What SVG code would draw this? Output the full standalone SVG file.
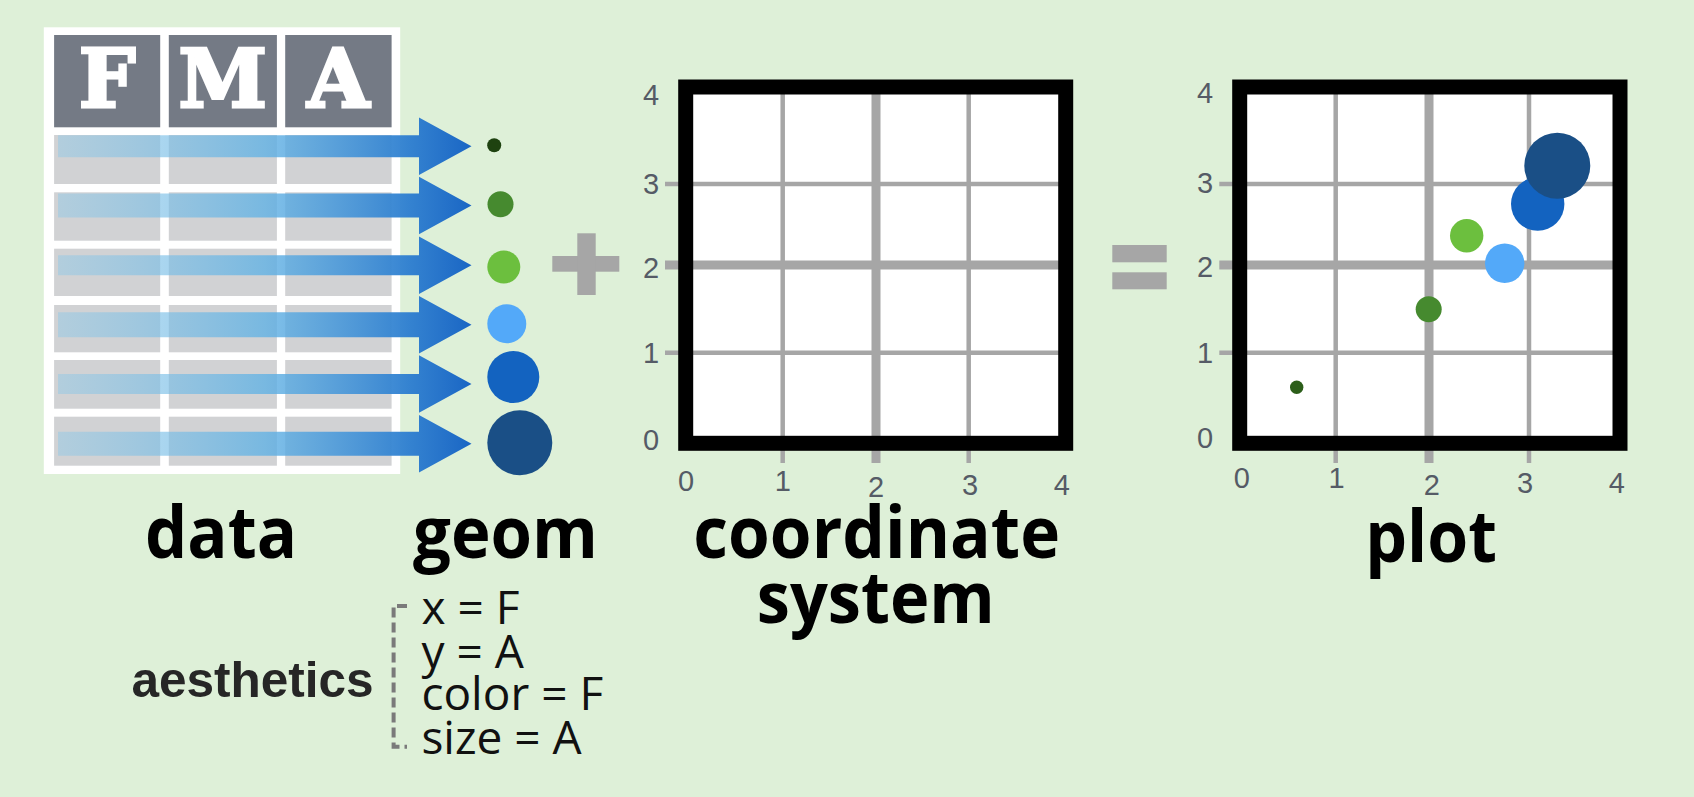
<svg xmlns="http://www.w3.org/2000/svg" width="1694" height="797" viewBox="0 0 1694 797">
<defs>
<linearGradient id="arrowGrad" gradientUnits="userSpaceOnUse" x1="58" y1="0" x2="471.5" y2="0">
<stop offset="0" stop-color="#8cc8e8" stop-opacity="0.45"/>
<stop offset="0.5" stop-color="#62b2e4" stop-opacity="0.8"/>
<stop offset="0.85" stop-color="#2f7fd0" stop-opacity="0.97"/>
<stop offset="1" stop-color="#1a66c4" stop-opacity="1"/>
</linearGradient>
<style>
.hdr{fill:#747a85}
.cell{fill:#d1d2d4}
.hl{font-family:"DejaVu Serif",serif;font-weight:bold;font-size:80px;fill:#ffffff;stroke:#ffffff;stroke-width:3;text-anchor:middle}
.arrow{fill:url(#arrowGrad)}
.grid{stroke:#a6a6a6;stroke-width:4.5;fill:none}
.gridT{stroke:#a6a6a6;stroke-width:9;fill:none}
.frame{fill:none;stroke:#000000;stroke-width:15}
.ax{font-family:"Liberation Sans",Arial,sans-serif;font-size:29px;fill:#555b66;text-anchor:middle}
.lbl{font-family:"Open Sans","Noto Sans",sans-serif;font-weight:bold;font-size:72px;fill:#000000;text-anchor:middle}
.aes{font-family:"Open Sans","Noto Sans",sans-serif;font-size:46px;fill:#111111}
.op{fill:#a6a6a6}
</style>
</defs>
<rect x="0" y="0" width="1694" height="797" fill="#def0d8"/>

<g id="data">
<rect x="43.8" y="27.3" width="356.4" height="446.7" fill="#ffffff"/>
<rect class="hdr" x="54.1" y="35" width="106.1" height="92.3"/>
<rect class="hdr" x="168.8" y="35" width="108.1" height="92.3"/>
<rect class="hdr" x="285.2" y="35" width="106.4" height="92.3"/>
<text class="hl" x="107.2" y="107">F</text>
<text class="hl" x="222.9" y="107">M</text>
<text class="hl" x="338.4" y="107">A</text>
<g>
<rect class="cell" x="54.1" y="135" width="106.1" height="49"/>
<rect class="cell" x="168.8" y="135" width="108.1" height="49"/>
<rect class="cell" x="285.2" y="135" width="106.4" height="49"/>
<rect class="cell" x="54.1" y="192.3" width="106.1" height="48.4"/>
<rect class="cell" x="168.8" y="192.3" width="108.1" height="48.4"/>
<rect class="cell" x="285.2" y="192.3" width="106.4" height="48.4"/>
<rect class="cell" x="54.1" y="248.7" width="106.1" height="47.3"/>
<rect class="cell" x="168.8" y="248.7" width="108.1" height="47.3"/>
<rect class="cell" x="285.2" y="248.7" width="106.4" height="47.3"/>
<rect class="cell" x="54.1" y="305" width="106.1" height="47.3"/>
<rect class="cell" x="168.8" y="305" width="108.1" height="47.3"/>
<rect class="cell" x="285.2" y="305" width="106.4" height="47.3"/>
<rect class="cell" x="54.1" y="360" width="106.1" height="48.7"/>
<rect class="cell" x="168.8" y="360" width="108.1" height="48.7"/>
<rect class="cell" x="285.2" y="360" width="106.4" height="48.7"/>
<rect class="cell" x="54.1" y="416.7" width="106.1" height="49"/>
<rect class="cell" x="168.8" y="416.7" width="108.1" height="49"/>
<rect class="cell" x="285.2" y="416.7" width="106.4" height="49"/>
</g>
<text class="lbl" x="221" y="558" textLength="152" lengthAdjust="spacingAndGlyphs">data</text>
</g>

<g id="connectors">
<path class="arrow" d="M58,135.3 H419 V117.6 L471.5,146.3 L419,175 V157.3 H58 Z"/>
<path class="arrow" d="M58,193.5 H419 V176.8 L471.5,205.5 L419,234.2 V217.5 H58 Z"/>
<path class="arrow" d="M58,255.2 H419 V236.5 L471.5,265.2 L419,293.9 V275.2 H58 Z"/>
<path class="arrow" d="M58,312.2 H419 V296 L471.5,324.7 L419,353.4 V337.2 H58 Z"/>
<path class="arrow" d="M58,374 H419 V355.3 L471.5,384 L419,412.7 V394 H58 Z"/>
<path class="arrow" d="M58,431.7 H419 V415 L471.5,443.7 L419,472.4 V455.7 H58 Z"/>
</g>

<g id="geom">
<circle cx="494.2" cy="145.3" r="7" fill="#1e4210"/>
<circle cx="500.5" cy="204.3" r="13" fill="#468a2f"/>
<circle cx="503.8" cy="267" r="16.5" fill="#6cbf3e"/>
<circle cx="506.8" cy="323.7" r="19.5" fill="#53a9f9"/>
<circle cx="513.3" cy="377" r="26" fill="#1363c0"/>
<circle cx="519.8" cy="442.7" r="32.5" fill="#1a4f86"/>
<text class="lbl" x="505.5" y="558" textLength="185" lengthAdjust="spacingAndGlyphs">geom</text>
</g>

<g id="plus">
<rect class="op" x="552.3" y="256" width="67" height="15.7"/>
<rect class="op" x="577.3" y="233.3" width="18.4" height="61.7"/>
</g>

<g id="coordinate-system">
<rect x="685.7" y="87" width="380" height="356.3" fill="#ffffff"/>
<line class="grid" x1="782.7" y1="94" x2="782.7" y2="463"/>
<line class="gridT" x1="876" y1="94" x2="876" y2="463"/>
<line class="grid" x1="968.7" y1="94" x2="968.7" y2="463"/>
<line class="grid" x1="665" y1="184" x2="1059" y2="184"/>
<line class="gridT" x1="665" y1="265" x2="1059" y2="265"/>
<line class="grid" x1="665" y1="352.7" x2="1059" y2="352.7"/>
<rect class="frame" x="685.7" y="87" width="380" height="356.3"/>
<text class="ax" x="651" y="105">4</text>
<text class="ax" x="651" y="194">3</text>
<text class="ax" x="651" y="278">2</text>
<text class="ax" x="651" y="363">1</text>
<text class="ax" x="651" y="450">0</text>
<text class="ax" x="686" y="490.7">0</text>
<text class="ax" x="782.7" y="490.7">1</text>
<text class="ax" x="876" y="496.7">2</text>
<text class="ax" x="970" y="495">3</text>
<text class="ax" x="1061.7" y="495">4</text>
<text class="lbl" x="876.7" y="558.3" textLength="366.7" lengthAdjust="spacingAndGlyphs">coordinate</text>
<text class="lbl" x="875.8" y="623.3" textLength="238" lengthAdjust="spacingAndGlyphs">system</text>
</g>

<g id="equals">
<rect class="op" x="1112.3" y="245" width="54.4" height="17.3"/>
<rect class="op" x="1112.3" y="272.3" width="54.4" height="17"/>
</g>

<g id="plot">
<rect x="1239.7" y="87" width="380.3" height="356.3" fill="#ffffff"/>
<line class="grid" x1="1335.7" y1="94" x2="1335.7" y2="463"/>
<line class="gridT" x1="1429" y1="94" x2="1429" y2="463"/>
<line class="grid" x1="1529" y1="94" x2="1529" y2="463"/>
<line class="grid" x1="1219.3" y1="184" x2="1613" y2="184"/>
<line class="gridT" x1="1219.3" y1="265" x2="1613" y2="265"/>
<line class="grid" x1="1219.3" y1="352.7" x2="1613" y2="352.7"/>
<circle cx="1296.7" cy="387.3" r="6.7" fill="#2c5e1a"/>
<circle cx="1428.7" cy="309.3" r="13" fill="#468a2f"/>
<circle cx="1466.7" cy="235.7" r="16.7" fill="#6cbf3e"/>
<circle cx="1504.7" cy="263.3" r="19.7" fill="#53a9f9"/>
<circle cx="1537.7" cy="204" r="26.7" fill="#1363c0"/>
<circle cx="1557.3" cy="165.7" r="33" fill="#1a4f86"/>
<rect class="frame" x="1239.7" y="87" width="380.3" height="356.3"/>
<text class="ax" x="1205" y="103">4</text>
<text class="ax" x="1205" y="193">3</text>
<text class="ax" x="1205" y="276.7">2</text>
<text class="ax" x="1205" y="362.7">1</text>
<text class="ax" x="1205" y="448">0</text>
<text class="ax" x="1241.7" y="488.3">0</text>
<text class="ax" x="1336.5" y="488.3">1</text>
<text class="ax" x="1431.7" y="495">2</text>
<text class="ax" x="1525" y="493.3">3</text>
<text class="ax" x="1616.7" y="493.3">4</text>
<text class="lbl" x="1431" y="561.7" textLength="131.7" lengthAdjust="spacingAndGlyphs">plot</text>
</g>

<g id="aesthetics">
<text x="131.5" y="697.3" font-family="'Liberation Sans',Arial,sans-serif" font-weight="bold" font-size="49.5" fill="#262626">aesthetics</text>
<path d="M407,606 H393.6 V746.7 H407" fill="none" stroke="#7a7a7a" stroke-width="4" stroke-dasharray="10 5"/>
<text class="aes" x="421.4" y="624">x = F</text>
<text class="aes" x="421.4" y="668.3">y = A</text>
<text class="aes" x="421.4" y="710">color = F</text>
<text class="aes" x="421.4" y="754">size = A</text>
</g>
</svg>
